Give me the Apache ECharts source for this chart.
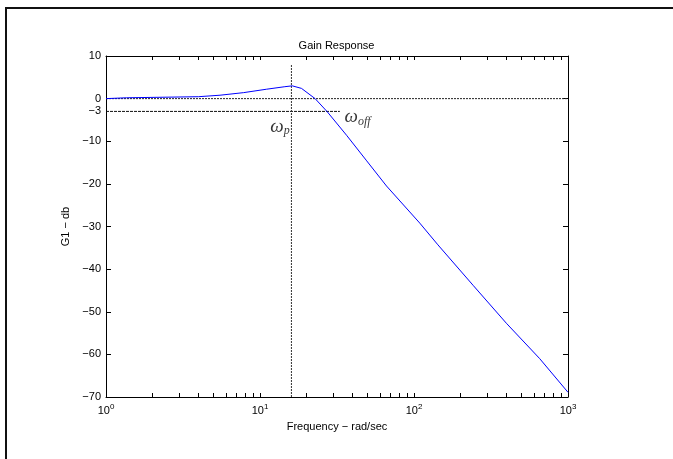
<!DOCTYPE html>
<html><head><meta charset="utf-8">
<script src="https://cdn.jsdelivr.net/npm/echarts@6/dist/echarts.min.js"></script>
<style>html,body{margin:0;padding:0;background:#fff}#c{width:673px;height:459px}</style>
</head><body><div id="c"></div>
<script>
// Data
const freq   = [1, 1.36, 3.98, 5.5, 7.8, 11, 14.5, 16.2, 18.6, 22.8, 27.3, 36.5, 49.3, 66.3, 109, 143, 242, 398, 655, 1000];
const gainDb = [0, 0.2, 0.45, 0.8, 1.4, 2.2, 2.8, 3.0, 2.4, 0, -3.06, -8.6, -14.6, -20.5, -29.2, -34.3, -43.8, -52.7, -61.0, -68.9];
const yLabelValues = [10, 0, -3, -10, -20, -30, -40, -50, -60, -70];
const yTickValues = [10, 0, -10, -20, -30, -40, -50, -60, -70];
const xLabelValues = [1, 10, 100, 1000];
const xTickValues = [1,2,3,4,5,6,7,8,9,10,20,30,40,50,60,70,80,90,100,200,300,400,500,600,700,800,900,1000];
const peakFreq = 16;        // omega_p
const peakLineTop = 8;
const cutoffLevel = -3;
const cutoffLineEnd = 33;
const labelP = [13.5, -6.7];
const labelOff = [43, -4.4];

const chart = echarts.init(document.getElementById('c'));
const tickFont = {fontFamily: 'Liberation Sans', fontSize: 11, color: '#000'};
const xAxisBase = {
  type: 'log', logBase: 10, min: 1, max: 1000,
  axisLine: {show: true, onZero: false, lineStyle: {color: '#000', width: 1}},
  axisTick: {show: true, inside: true, length: 4, customValues: xTickValues, lineStyle: {color: '#000'}},
  splitLine: {show: false}, minorTick: {show: false}
};
const yAxisBase = {
  type: 'value', min: -70, max: 10, interval: 10,
  axisLine: {show: true, onZero: false, lineStyle: {color: '#000', width: 1}},
  axisTick: {show: true, inside: true, length: 5, customValues: yTickValues, lineStyle: {color: '#000'}},
  splitLine: {show: false}
};
chart.setOption({
  animation: false,
  backgroundColor: '#fff',
  title: {text: 'Gain Response', left: 'center', top: 35,
    textStyle: {fontFamily: 'Liberation Sans', fontSize: 11, fontWeight: 'normal', color: '#000'}},
  grid: {left: 106, right: 105, top: 56, bottom: 62},
  graphic: [{type: 'rect', shape: {x: 6, y: 8, width: 800, height: 600},
    style: {fill: null, stroke: '#111', lineWidth: 2}, silent: true}],
  xAxis: [
    Object.assign({}, xAxisBase, {position: 'bottom',
      name: 'Frequency − rad/sec', nameLocation: 'middle', nameGap: 24,
      nameTextStyle: tickFont,
      axisLabel: {show: true, customValues: xLabelValues, margin: 6,
        formatter: v => '{b|10}{s|' + Math.round(Math.log10(v)) + '}',
        rich: {b: {fontFamily: 'Liberation Sans', fontSize: 11, color: '#000'},
               s: {fontFamily: 'Liberation Sans', fontSize: 8, color: '#000', padding: [0, 0, 7, 0]}}}}),
    Object.assign({}, xAxisBase, {position: 'top', axisLabel: {show: false}})
  ],
  yAxis: [
    Object.assign({}, yAxisBase, {position: 'left',
      name: 'G1 − db', nameLocation: 'middle', nameGap: 32, nameRotate: 90,
      nameTextStyle: tickFont,
      axisLabel: Object.assign({show: true, customValues: yLabelValues, margin: 5,
        formatter: v => String(v).replace('-', '−')}, tickFont)}),
    Object.assign({}, yAxisBase, {position: 'right', axisLabel: {show: false}})
  ],
  series: [
    {type: 'line', name: 'zero', xAxisIndex: 0, yAxisIndex: 0, symbol: 'none', silent: true,
     data: [[xLabelValues[0], 0], [xLabelValues[3], 0]],
     lineStyle: {color: '#222', width: 1, type: [2, 1]}},
    {type: 'line', name: 'cutoff', symbol: 'none', silent: true,
     data: [[xLabelValues[0], cutoffLevel], [cutoffLineEnd, cutoffLevel]],
     lineStyle: {color: '#111', width: 1, type: [3, 1]}},
    {type: 'line', name: 'peak', symbol: 'none', silent: true,
     data: [[peakFreq, -70], [peakFreq, peakLineTop]],
     lineStyle: {color: '#333', width: 1, type: [2, 1]}},
    {type: 'line', name: 'G1', symbol: 'none', data: freq.map((f, i) => [f, gainDb[i]]),
     lineStyle: {color: '#0000ff', width: 1}},
    {type: 'scatter', symbolSize: 0, silent: true,
     data: [
       {value: labelP, label: {show: true, position: 'inside', formatter: '{w|ω}{s|p}'}},
       {value: labelOff, label: {show: true, position: 'inside', formatter: '{w|ω}{s|off}'}}
     ],
     label: {rich: {
       w: {fontFamily: 'Liberation Serif', fontStyle: 'italic', fontSize: 19, color: '#000'},
       s: {fontFamily: 'Liberation Serif', fontStyle: 'italic', fontSize: 12, color: '#000', padding: [8, 0, 0, 0]}
     }}}
  ]
});
</script></body></html>
